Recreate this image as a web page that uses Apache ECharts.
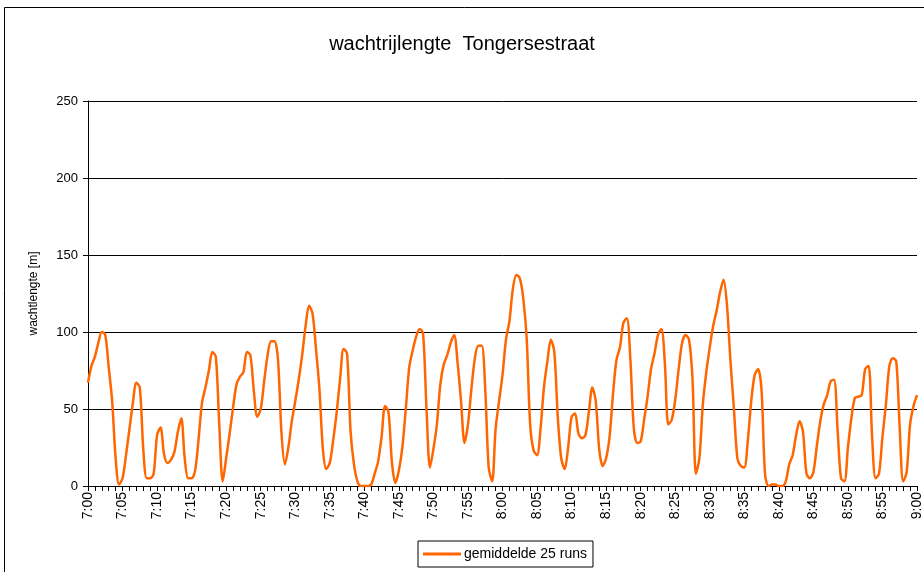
<!DOCTYPE html>
<html>
<head>
<meta charset="utf-8">
<script src="https://cdn.jsdelivr.net/npm/echarts@6/dist/echarts.min.js"></script>
<style>
html, body { margin: 0; padding: 0; background: #fff; }
#chart { width: 924px; height: 572px; }
</style>
</head>
<body>
<div id="chart"></div>
<script>
// wachtlengte per 30 s, 7:00 - 9:00
var queue = [
	67, 78, 84, 93, 100, 98, 77, 55, 18, 1, 5, 20, 37, 54, 67, 64, 24, 5, 5, 8,
	33, 38, 21, 15, 17, 22, 35, 44, 18, 5, 5, 10, 30, 54, 64, 75, 87, 84, 40, 3, 18,
	34, 51, 66, 71, 74, 87, 85, 62, 45, 50, 68, 85, 94, 94, 82, 35, 14, 25, 42, 55,
	69, 85, 104, 117, 112, 89, 63, 24, 11, 15, 30, 48, 70, 89, 86, 36, 14, 3, 0, 0,
	0, 1, 8, 16, 32, 52, 48, 15, 2, 10, 25, 50, 77, 88, 97, 102, 99, 50, 12, 24,
	40, 66, 79, 85, 93, 98, 80, 55, 28, 40, 63, 83, 91, 91, 63, 12, 3, 37, 55, 72,
	95, 107, 128, 137, 135, 122, 96, 40, 23, 20, 37, 64, 81, 95, 87, 45, 18, 11, 25, 45,
	47, 34, 31, 33, 48, 64, 55, 24, 13, 18, 32, 60, 82, 90, 106, 109, 83, 38, 28, 29,
	43, 58, 76, 86, 98, 102, 80, 40, 43, 56, 76, 93, 98, 95, 70, 8, 18, 53, 74, 90,
	104, 114, 126, 134, 117, 81, 50, 18, 13, 12, 29, 55, 72, 76, 62, 8, 0, 1, 1, 0,
	0, 3, 14, 20, 33, 42, 35, 8, 5, 9, 26, 42, 53, 59, 68, 69, 37, 5, 3, 25,
	44, 57, 58, 59, 76, 78, 32, 5, 8, 32, 53, 78, 83, 81, 37, 3, 9, 40, 52, 59
];
var yTicks = [0, 50, 100, 150, 200, 250];

var times = [];
for (var i = 0; i < queue.length; i++) {
	var m = Math.floor(i / 2);
	var h = 7 + Math.floor(m / 60);
	var mm = m % 60;
	var s = h + ':' + (mm < 10 ? '0' : '') + mm;
	if (i % 2 == 1) s += ':30';
	times.push(s);
}

var chart = echarts.init(document.getElementById('chart'));
var font = 'Liberation Sans, Arial, sans-serif';

var option = {
	animation: false,
	textStyle: { fontFamily: font, color: '#000' },
	graphic: [{
		type: 'rect',
		shape: { x: 4.5, y: 7.5, width: 940, height: 600 },
		style: { fill: 'none', stroke: '#000', lineWidth: 1 }
	}],
	title: {
		text: 'wachtrijlengte  Tongersestraat',
		left: 'center',
		top: 29,
		textStyle: { fontFamily: font, fontSize: 20, fontWeight: 'normal', color: '#000' }
	},
	legend: {
		data: ['gemiddelde 25 runs'],
		left: 418,
		top: 541,
		orient: 'horizontal',
		icon: 'rect',
		itemWidth: 38,
		itemHeight: 3,
		padding: [6, 6, 6, 5],
		borderColor: '#000',
		borderWidth: 1,
		textStyle: { fontFamily: font, fontSize: 14, color: '#000', padding: [0, 0, 0, -2] }
	},
	grid: { left: 88, right: 0, top: 101, bottom: 86, containLabel: false },
	xAxis: {
		type: 'category',
		data: times,
		boundaryGap: false,
		axisLine: { lineStyle: { color: '#000', width: 1 } },
		axisTick: { interval: 1, length: 5, lineStyle: { color: '#000' } },
		axisLabel: {
			interval: 9,
			rotate: 90,
			margin: 6,
			fontSize: 14,
			color: '#000',
			fontFamily: font
		},
		splitLine: { show: false }
	},
	yAxis: {
		type: 'value',
		min: yTicks[0],
		max: yTicks[yTicks.length - 1],
		interval: 50,
		name: 'wachtlengte [m]',
		nameLocation: 'middle',
		nameRotate: 90,
		nameGap: 48,
		nameTextStyle: { fontFamily: font, fontSize: 12, color: '#000' },
		axisLine: { show: true, lineStyle: { color: '#000', width: 1 } },
		axisTick: { show: true, length: 5, lineStyle: { color: '#000' } },
		axisLabel: { margin: 10, fontSize: 13, color: '#000', fontFamily: font },
		splitLine: { show: true, lineStyle: { color: '#000', width: 1 } }
	},
	series: [{
		name: 'gemiddelde 25 runs',
		type: 'line',
		data: queue,
		smooth: 0.3,
		showSymbol: false,
		itemStyle: { color: '#FF6600' },
		lineStyle: { color: '#FF6600', width: 2.5 }
	}]
};

chart.setOption(option);
</script>
</body>
</html>
